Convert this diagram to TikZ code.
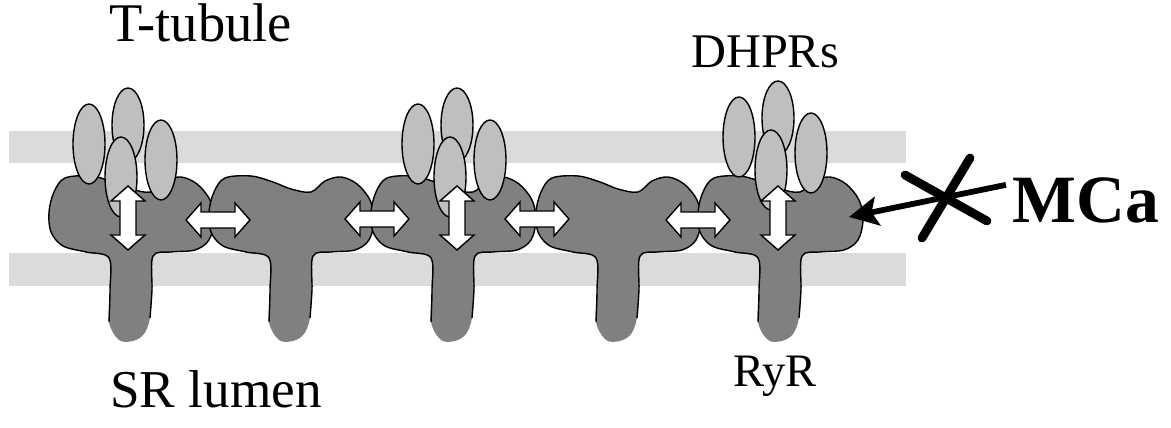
\documentclass[tikz,border=0pt]{standalone}
\usepackage{fontspec}
\setmainfont{Liberation Serif}
\usetikzlibrary{shapes.geometric,arrows.meta}

\begin{document}
\begin{tikzpicture}[x=0.02cm, y=-0.02cm,
bandstrip/.style={fill=black!14},
ryrfill/.style={fill=black!50},
ryredge/.style={draw=black, line width=0.8pt},
dhpr/.style={ellipse, draw=black, fill=black!25, line width=0.8pt, minimum width=0.64cm, minimum height=1.6cm, inner sep=0pt},
labeltext/.style={inner sep=0pt, anchor=base west},
blockarrow/.pic={\filldraw[fill=white, draw=black, line width=0.8pt]
  (-32,0) -- (-17,-17) -- (-17,-8) -- (17,-8) -- (17,-17) -- (32,0) -- (17,17) -- (17,8) -- (-17,8) -- (-17,17) -- cycle;},
]
\useasboundingbox (0,0) rectangle (1171,428);

%Membranes
\fill[bandstrip] (9,131) rectangle (906,163);
\fill[bandstrip] (9,253) rectangle (906,286);

%RyR bodies
\foreach \cx in {131,291,453,618,780}{
  \begin{scope}[shift={(\cx,0)}]
    \fill[ryrfill] plot[smooth cycle, tension=0.55] coordinates {(-22,322) (-21,290) (-22,258) (-45,252) (-68,246) (-80,232) (-82,212) (-77,192) (-66,178) (-40,176) (-18,182) (0,189) (20,192) (34,181) (50,177) (66,184) (79,200) (83,220) (78,240) (64,250) (40,252) (22,256) (21,290) (19,318) (13,334) (2,341) (-12,340)};
    \draw[ryredge] plot[smooth, tension=0.55] coordinates {(-22,322) (-21,290) (-22,258) (-45,252) (-68,246) (-80,232) (-82,212) (-77,192) (-66,178) (-40,176) (-18,182) (0,189) (20,192) (34,181) (50,177) (66,184) (79,200) (83,220) (78,240) (64,250) (40,252) (22,256) (21,290) (19,318)};
  \end{scope}
}

%DHPR tetrads
\foreach \n/\ax/\ay in {1/128/0, 3/457/0, 5/778/-7}{
  \node[dhpr, minimum height=1.48cm] (dhpr\n top)   at (\ax,125+\ay)    {};
  \node[dhpr]                        (dhpr\n left)  at (\ax-39,144+\ay) {};
  \node[dhpr]                        (dhpr\n right) at (\ax+33,160+\ay) {};
  \node[dhpr]                        (dhpr\n front) at (\ax-7,177+\ay)  {};
  \pic[rotate=90] at (\ax,218) {blockarrow};
}

%RyR-RyR coupling
\foreach \hx/\hy in {218/220, 377/219, 537/219, 698/220}
  \pic at (\hx,\hy) {blockarrow};

%Labels
\node[labeltext, font=\fontsize{31}{33}\selectfont]   (ttubule) at (109,42)  {T-tubule};
\node[labeltext, font=\fontsize{27.5}{29}\selectfont] (dhprs)   at (691,68)  {DHPRs};
\node[labeltext, font=\fontsize{30.3}{32}\selectfont] (srlumen) at (110,408) {SR lumen};
\node[labeltext, font=\fontsize{26.5}{28}\selectfont] (ryr)     at (733,387) {RyR};
\node[labeltext, font=\bfseries\fontsize{38.5}{40}\selectfont] (mca) at (1012,223) {MCa};

%Lines
\coordinate (ryrsite) at (849,217);
\coordinate (block)   at (946,198);
\draw[line width=3.3pt, -{Stealth[length=0.58cm, width=0.58cm, inset=0.12cm]}]
  ([shift={(-6,7)}]mca.north west) -- (ryrsite);
\draw[line width=5pt, line cap=round] (block) ++(-41,-23) -- ++(82,46);
\draw[line width=5pt, line cap=round] (block) ++(24,-40) -- ++(-48,80);

\end{tikzpicture}
\end{document}
